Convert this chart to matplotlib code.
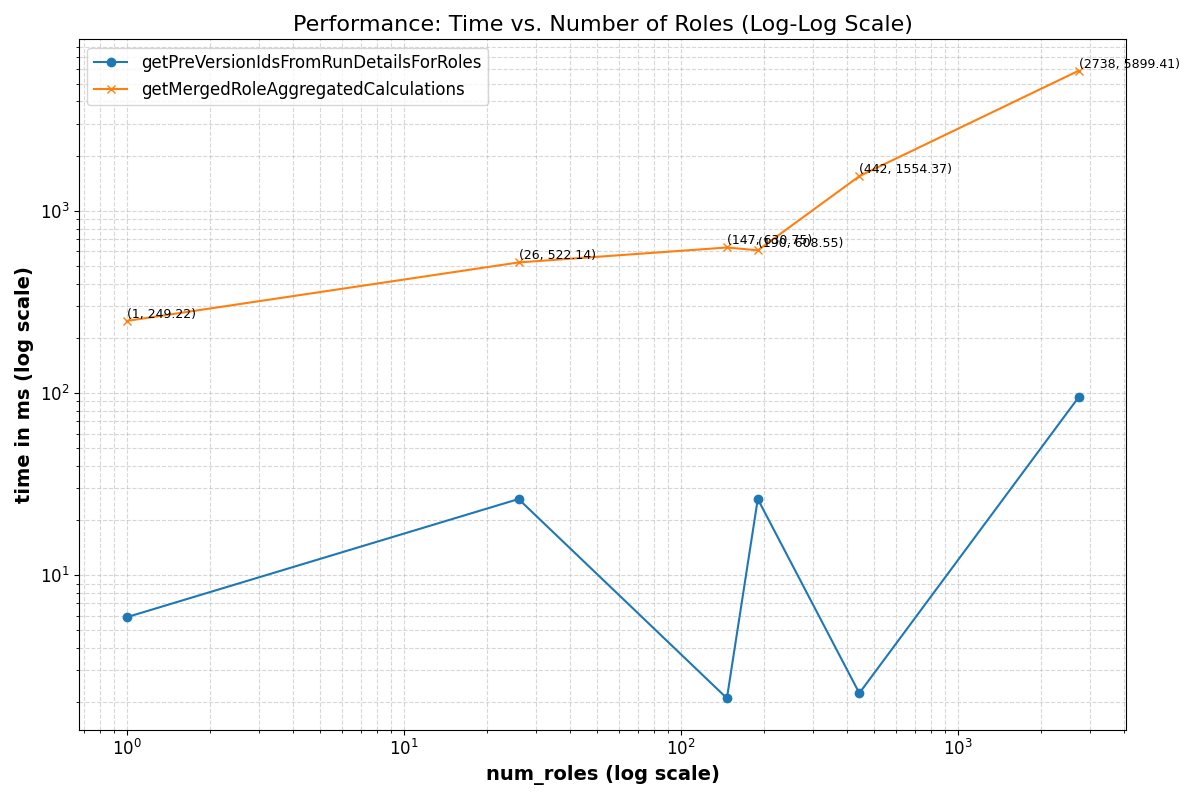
import matplotlib
matplotlib.use('Agg')
import matplotlib.pyplot as plt

num_roles = [1, 26, 147, 190, 442, 2738]
pre_version_ms = [5.88, 26.2, 2.11, 26.2, 2.25, 95.0]
merged_ms = [249.22, 522.14, 630.75, 608.55, 1554.37, 5899.41]

plt.figure(figsize=(12, 8))
plt.plot(num_roles, pre_version_ms, marker='o', label='getPreVersionIdsFromRunDetailsForRoles')
plt.plot(num_roles, merged_ms, marker='x', label='getMergedRoleAggregatedCalculations')

for x, y in zip(num_roles, merged_ms):
    plt.text(x, y, f'({x}, {y})', fontsize=9, va='bottom')

plt.xscale('log')
plt.yscale('log')
plt.xlabel('num_roles (log scale)', fontsize=14, fontweight='bold')
plt.ylabel('time in ms (log scale)', fontsize=14, fontweight='bold')
plt.title('Performance: Time vs. Number of Roles (Log-Log Scale)', fontsize=16)
plt.xticks(fontsize=12)
plt.yticks(fontsize=12)
plt.legend(fontsize=12)
plt.grid(True, which='both', ls='--', alpha=0.5)
plt.tight_layout()
plt.savefig('out.png', dpi=100)
